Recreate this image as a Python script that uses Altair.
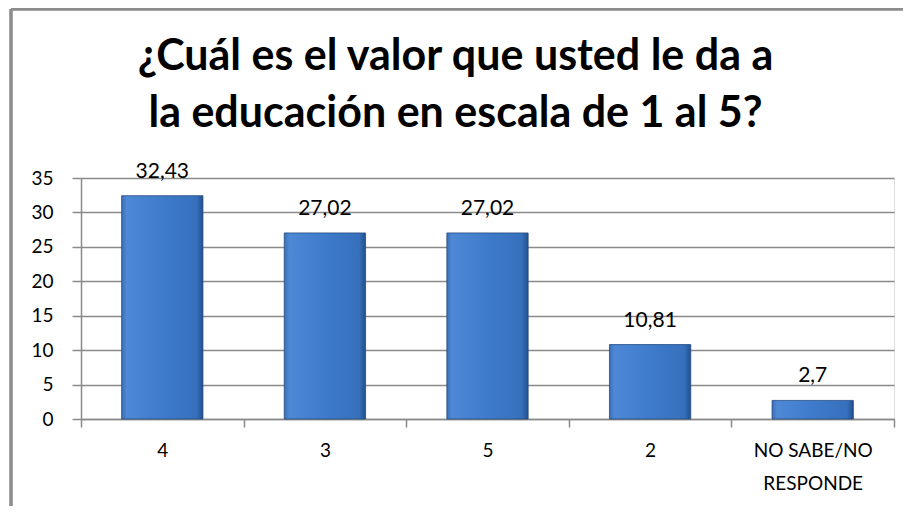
import altair as alt
import pandas as pd

categories = ["4", "3", "5", "2", "NO SABE/NO RESPONDE"]
values = [32.43, 27.02, 27.02, 10.81, 2.7]
y_ticks = [0, 5, 10, 15, 20, 25, 30, 35]
title_lines = ["¿Cuál es el valor que usted le da a", "la educación en escala de 1 al 5?"]

df = pd.DataFrame({
    "cat": categories,
    "val": values,
    "label": [str(v).replace(".", ",") for v in values],
})

FONT = "Lato"
GRID = "#8a8a8a"
FRAME = "#8c8c8c"

bar_fill = alt.Gradient(
    gradient="linear",
    x1=0, x2=1, y1=0, y2=0,
    stops=[
        alt.GradientStop(offset=0.0, color="#3a6fb5"),
        alt.GradientStop(offset=0.06, color="#4d88d6"),
        alt.GradientStop(offset=0.5, color="#3f7bcb"),
        alt.GradientStop(offset=0.92, color="#3670bd"),
        alt.GradientStop(offset=1.0, color="#22508f"),
    ],
)

x_enc = alt.X(
    "cat:N",
    sort=categories,
    title=None,
    scale=alt.Scale(paddingInner=0, paddingOuter=0),
    axis=alt.Axis(
        labelAngle=0,
        labelFont=FONT,
        labelFontSize=19,
        labelColor="#000000",
        labelPadding=14,
        domainColor=GRID,
        domainWidth=1.5,
        tickColor=GRID,
        tickWidth=1.5,
        tickSize=8,
        tickBand="extent",
        labelExpr="datum.value == 'NO SABE/NO RESPONDE' ? ['NO SABE/NO', 'RESPONDE'] : datum.value",
        labelLineHeight=33,
    ),
)

y_enc = alt.Y(
    "val:Q",
    title=None,
    scale=alt.Scale(domain=[0, 35], nice=False),
    axis=alt.Axis(
        values=y_ticks,
        labelFont=FONT,
        labelFontSize=19,
        labelColor="#000000",
        labelPadding=19,
        domainColor=GRID,
        domainWidth=1.5,
        tickColor=GRID,
        tickWidth=1.5,
        tickSize=9,
        gridColor=GRID,
        gridWidth=1.5,
        labelOverlap=False,
    ),
)

bars = alt.Chart(df).mark_bar(
    width=alt.RelativeBandSize(0.5),
    color=bar_fill,
    stroke="#24497f",
    strokeWidth=0.8,
).encode(x=x_enc, y=y_enc)

labels = alt.Chart(df).mark_text(
    font=FONT, fontSize=21, color="#000000", dy=-18, baseline="alphabetic"
).encode(x=x_enc, y=y_enc, text="label:N")

# chart frame: only the left and top edges fall inside the picture
frame_left = alt.Chart(df).mark_rule(color=FRAME, strokeWidth=2.5).encode(
    x=alt.value(-70), y=alt.value(-169), y2=alt.value(1000),
)
frame_top = alt.Chart(df).mark_rule(color=FRAME, strokeWidth=2.5).encode(
    x=alt.value(-70), x2=alt.value(1000), y=alt.value(-169),
)

chart = alt.layer(frame_left, frame_top, bars, labels).properties(
    width=813,
    height=241,
    autosize=alt.AutoSizeParams(type="none"),
    padding={"left": 73, "top": 170, "right": 9, "bottom": 87},
    title=alt.Title(
        text=title_lines,
        font=FONT,
        fontSize=43,
        fontWeight="bold",
        color="#000000",
        anchor="middle",
        baseline="alphabetic",
        lineHeight=57,
        frame="group",
        offset=0,
        dy=162,
        dx=-32,
    ),
).configure_view(strokeWidth=0).configure(background="#ffffff")

chart.save("out.html", embed_options={"renderer": "svg", "actions": False})
